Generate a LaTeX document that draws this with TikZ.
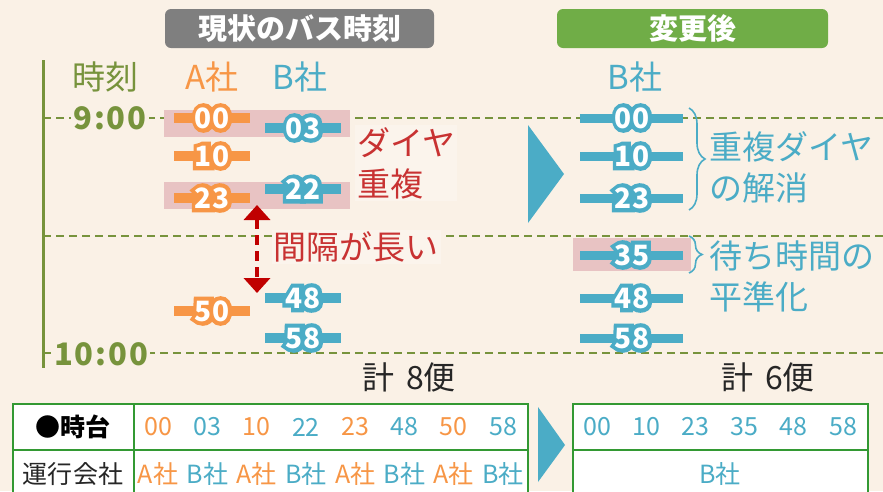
\documentclass[tikz,border=0pt]{standalone}
\usepackage{xcolor}
\usepackage{fontspec}
\setmainfont{Noto Sans CJK JP}
\usepackage{tikz}
\usetikzlibrary{arrows.meta}
\usetikzlibrary{decorations.pathreplacing}
\usetikzlibrary{positioning}
\definecolor{bgcream}{HTML}{FAF1E6}
\definecolor{paper}{HTML}{FBF4EC}
\definecolor{aorange}{HTML}{F79646}
\definecolor{bblue}{HTML}{4BACC6}
\definecolor{olive}{HTML}{77933C}
\definecolor{leaf}{HTML}{70AD47}
\definecolor{tgray}{HTML}{7F7F7F}
\definecolor{dup}{HTML}{E8C3C3}
\definecolor{tgreen}{HTML}{339933}
\definecolor{warnred}{HTML}{C83232}
\definecolor{arrowred}{HTML}{C00000}
\definecolor{ink}{HTML}{262626}
\newcommand\halo[2]{\rlap{\textcolor{#1}{\addfontfeature{FakeBold=30}#2}}#2}

\begin{document}
\begin{tikzpicture}[x=1pt,y=-1pt,title/.style={rounded corners=6pt,text=white,inner sep=0pt,font=\fontsize{29}{29}\selectfont\bfseries},head/.style={inner sep=1pt,font=\fontsize{33}{33}\selectfont},hour/.style={fill=bgcream,text=olive,inner sep=2pt,font=\fontsize{31}{31}\selectfont\bfseries\addfontfeature{LetterSpace=6}},hourline/.style={olive,line width=2pt,dash pattern=on 8pt off 5pt},abar/.style={aorange,line width=10pt},bbar/.style={bblue,line width=10pt},cbar/.style={bblue,line width=9pt},tag/.style={text=white,inner sep=0pt,font=\fontsize{28}{28}\selectfont\bfseries},note/.style={align=left,inner sep=2pt,font=\fontsize{33}{41}\selectfont},cell/.style={inner sep=0pt,font=\fontsize{25}{25}\selectfont},total/.style={text=ink,font=\fontsize{32}{32}\selectfont}]
            \fill[bgcream] (0,0) rectangle (883,491);
            \useasboundingbox (0,0) rectangle (883,491);
            \clip (0,0) rectangle (883,491);
            \fill[tgray,rounded corners=6pt] (165,9) rectangle (434,48);
            \node[title] (nowtitle) at (299.5,28.5) {現状のバス時刻};
            \fill[leaf,rounded corners=6pt] (557,9) rectangle (828,48);
            \node[title] (newtitle) at (692.5,28.5) {変更後};
            \node[head,text=olive] (timehead) at (105,77) {時刻};
            \node[head,text=aorange] (ahead) at (212,77) {A社};
            \node[head,text=bblue] (bhead) at (300,77) {B社};
            \node[head,text=bblue] (newhead) at (635,77) {B社};
            \draw[olive,line width=3pt] (43,60) -- (43,368);
            \foreach \y in {118,236,353}
              \draw[hourline] (43,\y) -- (883,\y);
            \node[hour] (nine) at (110,118) {9:00};
            \node[hour] (ten) at (101,354) {10:00};
            \fill[dup] (164,110) rectangle (350,137);
            \fill[dup] (164,182) rectangle (350,209);
            \fill[dup] (573,238) rectangle (691,271);
            \foreach \m/\y in {00/118,10/156,23/198,50/311}{
              \draw[abar] (174,\y) -- (250,\y);
              \node[tag] (a\m) at (212,\y) {\halo{aorange}{\m}};
            }
            \foreach \m/\y in {03/128,22/189,48/298,58/338}{
              \draw[bbar] (265,\y) -- (341,\y);
              \node[tag] (b\m) at (303,\y) {\halo{bblue}{\m}};
            }
            \foreach \m/\y in {00/118,10/156,23/198,35/255,48/298,58/338}{
              \draw[cbar] (580,\y) -- (683,\y);
              \node[tag] (c\m) at (632,\y) {\halo{bblue}{\m}};
            }
            \node[note,text=warnred,fill=paper,anchor=west] (dupnote) at (355,163) {ダイヤ\\重複};
            \node[note,text=warnred,fill=paper] (gapnote) at (356,247) {間隔が長い};
            \coordinate (gaptop) at (257,205);
            \coordinate (gapbot) at (257,293);
            \draw[arrowred,line width=4pt,dash pattern=on 10pt off 6pt,{Triangle[width=26pt,length=15pt]}-{Triangle[width=26pt,length=15pt]}] (gaptop) -- (gapbot);
            \fill[bblue] (528,125) -- (528,223) -- (564,174) -- cycle;
            \coordinate (bracetop) at (689,108);
            \coordinate (bracebot) at (689,210);
            \draw[bblue,line width=1.6pt,decorate,decoration={brace,amplitude=16pt}] (bracetop) -- (bracebot);
            \coordinate (waittop) at (689,236);
            \coordinate (waitbot) at (689,273);
            \draw[bblue,line width=1.6pt,decorate,decoration={brace,amplitude=13pt}] (waittop) -- (waitbot);
            \node[note,text=bblue,anchor=west] (fixnote) at (707,167) {重複ダイヤ\\の解消};
            \node[note,text=bblue,anchor=west] (waitnote) at (707,276) {待ち時間の\\平準化};
            \node[total] (oldsum) at (409,377) {計\hspace{12pt}8便};
            \node[total] (newsum) at (768,377) {計\hspace{12pt}6便};
            \draw[tgreen,line width=2.5pt,fill=white] (13,404) rectangle (528,500);
            \draw[tgreen,line width=2.5pt] (13,450) -- (528,450);
            \draw[tgreen,line width=2.5pt] (134,404) -- (134,500);
            \node[cell,text=black] (hourhead) at (73,427) {\bfseries ●時台};
            \node[cell,text=ink] (comphead) at (73,474) {運行会社};
            \foreach \m/\c [count=\i from 0] in {00/aorange,03/bblue,10/aorange,22/bblue,23/aorange,48/bblue,50/aorange,58/bblue}
              \node[cell,text=\c] (old\i) at (158+49.3*\i,427) {\m};
            \foreach \co/\c [count=\i from 0] in {A/aorange,B/bblue,A/aorange,B/bblue,A/aorange,B/bblue,A/aorange,B/bblue}
              \node[cell,text=\c] (oldco\i) at (158+49.3*\i,474) {\co 社};
            \fill[bblue] (538,407) -- (538,482) -- (565,445) -- cycle;
            \draw[tgreen,line width=2.5pt,fill=white] (573,404) rectangle (868,500);
            \draw[tgreen,line width=2.5pt] (573,450) -- (868,450);
            \foreach \m [count=\i from 0] in {00,10,23,35,48,58}
              \node[cell,text=bblue] (new\i) at (597+49.2*\i,427) {\m};
            \node[cell,text=bblue] (newco) at (720,474) {B社};
          \end{tikzpicture}
\end{document}
